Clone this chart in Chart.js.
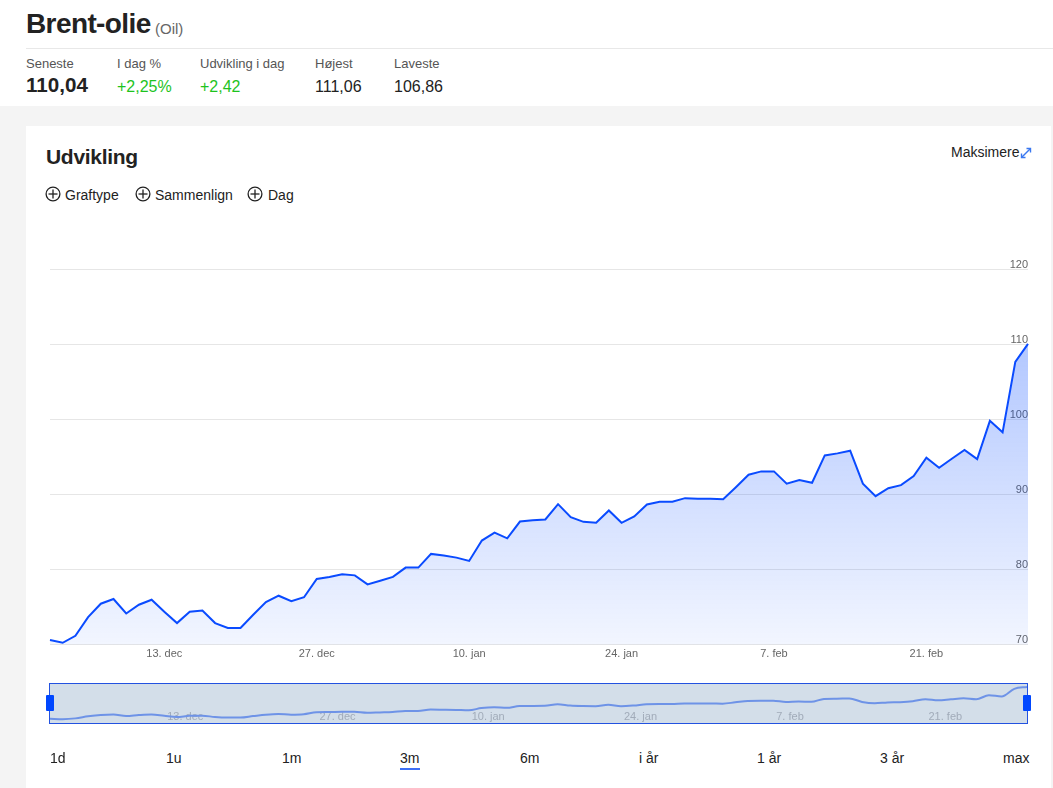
<!DOCTYPE html>
<html>
<head>
<meta charset="utf-8">
<script src="https://cdn.jsdelivr.net/npm/chart.js@4.4.1/dist/chart.umd.min.js"></script>
<style>
  html,body{margin:0;padding:0}
  body{width:1053px;height:788px;background:#f4f4f4;font-family:"Liberation Sans",Arial,sans-serif;position:relative;overflow:hidden;color:#222}
  .a{position:absolute;white-space:nowrap;line-height:1}
  #header{position:absolute;left:0;top:0;width:1053px;height:106px;background:#fff}
  #card{position:absolute;left:26px;top:126px;width:1025px;height:662px;background:#fff}
  .lbl{font-size:13px;color:#555}
  .val{font-size:16px;color:#222}
  .grn{color:#1ec31e}
  .btn{font-size:14px;color:#222}
  .opt{font-size:14px;color:#222}
</style>
</head>
<body>
<div id="header"></div>
<div class="a" style="left:26px;top:10px;font-size:28px;font-weight:bold;letter-spacing:-0.6px;color:#222">Brent-olie</div>
<div class="a" style="left:155px;top:20.5px;font-size:15px;color:#666">(Oil)</div>
<div class="a" style="left:26px;top:48px;width:1027px;height:1px;background:#e8e8e8"></div>

<div class="a lbl" style="left:26px;top:57.3px">Seneste</div>
<div class="a lbl" style="left:117px;top:57.3px">I dag %</div>
<div class="a lbl" style="left:200px;top:57.3px">Udvikling i dag</div>
<div class="a lbl" style="left:315px;top:57.3px">Højest</div>
<div class="a lbl" style="left:394px;top:57.3px">Laveste</div>

<div class="a" style="left:26px;top:75px;font-size:20.6px;font-weight:bold;color:#222">110,04</div>
<div class="a val grn" style="left:117px;top:78.5px">+2,25%</div>
<div class="a val grn" style="left:200px;top:78.5px">+2,42</div>
<div class="a val" style="left:315px;top:78.5px">111,06</div>
<div class="a val" style="left:394px;top:78.5px">106,86</div>

<div id="card"></div>
<div class="a" style="left:46px;top:145.5px;font-size:21px;font-weight:bold;color:#222;letter-spacing:-0.3px">Udvikling</div>
<div class="a" style="left:951px;top:145px;font-size:14px;color:#222">Maksimere</div>
<svg class="a" style="left:1019px;top:146px" width="14" height="14" viewBox="0 0 14 14">
  <g stroke="#3b78f0" stroke-width="1.4" fill="none">
    <line x1="2.5" y1="11.5" x2="11.5" y2="2.5"/>
    <polyline points="7.5,2.5 11.5,2.5 11.5,6.5"/>
    <polyline points="2.5,7.5 2.5,11.5 6.5,11.5"/>
  </g>
</svg>

<svg class="a" style="left:45px;top:186px" width="16" height="16" viewBox="0 0 16 16"><g stroke="#222" stroke-width="1.3" fill="none"><circle cx="8" cy="8" r="6.9"/><line x1="8" y1="3.5" x2="8" y2="12.5"/><line x1="3.5" y1="8" x2="12.5" y2="8"/></g></svg>
<div class="a opt" style="left:65px;top:188px">Graftype</div>
<svg class="a" style="left:135px;top:186px" width="16" height="16" viewBox="0 0 16 16"><g stroke="#222" stroke-width="1.3" fill="none"><circle cx="8" cy="8" r="6.9"/><line x1="8" y1="3.5" x2="8" y2="12.5"/><line x1="3.5" y1="8" x2="12.5" y2="8"/></g></svg>
<div class="a opt" style="left:155px;top:188px">Sammenlign</div>
<svg class="a" style="left:247px;top:186px" width="16" height="16" viewBox="0 0 16 16"><g stroke="#222" stroke-width="1.3" fill="none"><circle cx="8" cy="8" r="6.9"/><line x1="8" y1="3.5" x2="8" y2="12.5"/><line x1="3.5" y1="8" x2="12.5" y2="8"/></g></svg>
<div class="a opt" style="left:268px;top:188px">Dag</div>

<div style="position:absolute;left:40px;top:255px;width:1000px;height:409px"><canvas id="main"></canvas></div>

<div class="a" style="left:49px;top:683px;width:979px;height:41px;box-sizing:border-box;background:#d3dee9;border:1px solid #2352e0"></div>
<div style="position:absolute;left:50px;top:684px;width:977px;height:39px"><canvas id="nav"></canvas></div>
<div class="a" style="left:46px;top:695px;width:8px;height:16px;background:#0047ff;border-radius:1px"></div>
<div class="a" style="left:1023px;top:695px;width:8px;height:16px;background:#0047ff;border-radius:1px"></div>

<div class="a btn" style="left:50px;top:750.5px">1d</div>
<div class="a btn" style="left:166px;top:750.5px">1u</div>
<div class="a btn" style="left:282px;top:750.5px">1m</div>
<div class="a btn" style="left:400px;top:750.5px">3m</div>
<div class="a" style="left:400px;top:767.5px;width:20px;height:2.5px;background:#3d6ff5"></div>
<div class="a btn" style="left:520px;top:750.5px">6m</div>
<div class="a btn" style="left:639px;top:750.5px">i år</div>
<div class="a btn" style="left:757px;top:750.5px">1 år</div>
<div class="a btn" style="left:880px;top:750.5px">3 år</div>
<div class="a btn" style="left:1003px;top:750.5px">max</div>

<script>
// Brent oil closing values, one per trading point
const prices = [70.63, 70.27, 71.2, 73.69, 75.47, 76.09, 74.17, 75.33, 76.0, 74.4,
  72.89, 74.4, 74.57, 72.89, 72.23, 72.23, 74.0, 75.69, 76.53, 75.8,
  76.33, 78.76, 79.03, 79.37, 79.24, 78.04, 78.53, 79.03, 80.27, 80.27,
  82.09, 81.87, 81.6, 81.16, 83.87, 84.93, 84.17, 86.4, 86.57, 86.67,
  88.71, 86.97, 86.36, 86.23, 87.87, 86.23, 87.07, 88.67, 89.03, 89.03,
  89.51, 89.43, 89.43, 89.37, 90.97, 92.63, 93.07, 93.07, 91.43, 91.91,
  91.56, 95.2, 95.47, 95.83, 91.43, 89.77, 90.84, 91.24, 92.44, 94.89,
  93.56, 94.76, 95.93, 94.71, 99.8, 98.27, 107.64, 110.04];
// date tick labels and the point index they sit on
const tickText = ['13. dec', '27. dec', '10. jan', '24. jan', '7. feb', '21. feb'];
const tickIndex = [9, 21, 33, 45, 57, 69];
// y axis ticks
const yMin = 70, yMax = 120, yStep = 10;

const categories = prices.map(() => '');
tickIndex.forEach((k, i) => { categories[k] = tickText[i]; });

const FONT = '"Liberation Sans", Arial, sans-serif';

new Chart(document.getElementById('main'), {
  type: 'line',
  data: {
    labels: categories,
    datasets: [{
      data: prices,
      borderColor: '#0a4bff',
      borderWidth: 2,
      pointRadius: 0,
      tension: 0,
      fill: 'start',
      backgroundColor: (ctx) => {
        const a = ctx.chart.chartArea;
        if (!a) return 'rgba(0,70,255,0.15)';
        const g = ctx.chart.ctx.createLinearGradient(0, a.top, 0, a.bottom);
        g.addColorStop(0, 'rgba(0,70,255,0.36)');
        g.addColorStop(1, 'rgba(0,70,255,0.05)');
        return g;
      }
    }]
  },
  options: {
    responsive: true, maintainAspectRatio: false, animation: false, devicePixelRatio: 1,
    layout: { padding: { left: 10, right: 12, top: 14, bottom: 0 } },
    plugins: { legend: { display: false }, tooltip: { enabled: false } },
    scales: {
      x: {
        type: 'category',
        grid: { display: false, drawTicks: false },
        border: { display: false },
        ticks: { autoSkip: false, maxRotation: 0, color: '#666', padding: 3,
          font: { family: FONT, size: 11 } }
      },
      y: {
        position: 'right', min: yMin, max: yMax,
        grid: { color: '#e6e6e6', drawTicks: false, lineWidth: 1 },
        border: { display: false },
        ticks: { stepSize: yStep, mirror: true, padding: 0, labelOffset: -4.5, color: '#666',
          font: { family: FONT, size: 11 } }
      }
    }
  }
});

new Chart(document.getElementById('nav'), {
  type: 'line',
  data: {
    labels: categories,
    datasets: [{
      data: prices,
      borderColor: '#6e93e7',
      borderWidth: 2,
      pointRadius: 0,
      cubicInterpolationMode: 'monotone',
      fill: false
    }]
  },
  options: {
    responsive: true, maintainAspectRatio: false, animation: false, devicePixelRatio: 1,
    layout: { padding: 0 },
    plugins: { legend: { display: false }, tooltip: { enabled: false } },
    scales: {
      x: {
        type: 'category',
        grid: { display: false, drawTicks: false },
        border: { display: false },
        ticks: { autoSkip: false, maxRotation: 0, align: 'start', labelOffset: 3, padding: -13,
          color: 'rgba(120,130,145,0.55)', font: { family: FONT, size: 11 } }
      },
      y: { display: false, min: 65.5, max: 113.6 }
    }
  }
});
</script>
</body>
</html>
